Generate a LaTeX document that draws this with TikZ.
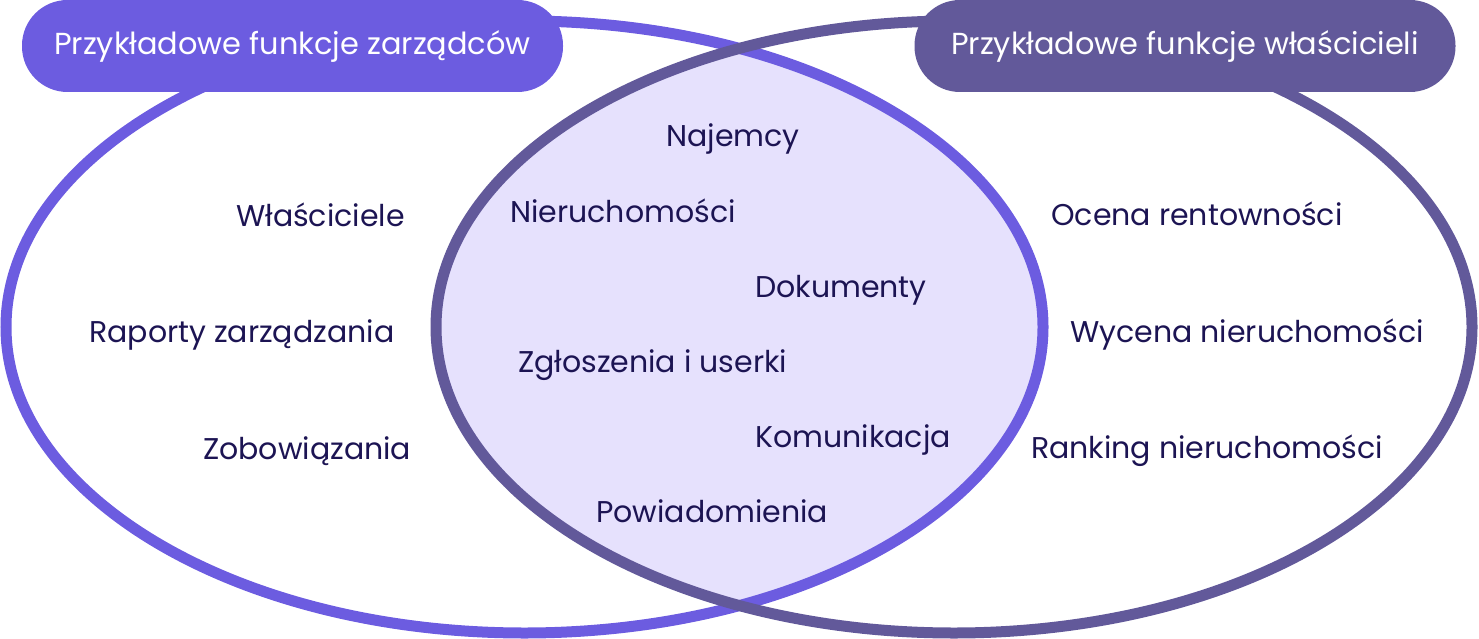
\documentclass[tikz,border=0pt]{standalone}
\usepackage{fontspec}
\setmainfont{Poppins}
\definecolor{mgr}{HTML}{6C5CE0}
\definecolor{own}{HTML}{62599A}
\definecolor{lav}{HTML}{E6E1FD}
\definecolor{ink}{HTML}{1C1453}
\tikzset{
  item/.style={anchor=base west,inner sep=0pt,text=ink,font=\fontsize{30}{36}\selectfont},
  pill/.style={rounded corners=45.5pt,minimum width=541pt,minimum height=92pt,inner sep=0pt,text=white,font=\fontsize{30.4}{36}\selectfont},
  ring/.style={line width=11pt}
}
\begin{document}
\begin{tikzpicture}[x=1pt,y=-1pt]
\useasboundingbox (0,0) rectangle (1479,639);
\begin{scope}
  \clip (524.5,327) ellipse [x radius=518.5, y radius=306];
  \fill[lav] (954,327) ellipse [x radius=518, y radius=306];
\end{scope}
\draw[ring,mgr] (524.5,327) ellipse [x radius=518.5, y radius=306];
\draw[ring,own] (954,327) ellipse [x radius=518, y radius=306];
\node[pill,fill=mgr] (pm) at (292.5,46) {Przykładowe funkcje zarządców};
\node[pill,fill=own] (po) at (1185,46) {Przykładowe funkcje właścicieli};
\node[item] (n1) at (666,147) {Najemcy};
\node[item] (n2) at (510,222) {Nieruchomości};
\node[item] (n3) at (755,297) {Dokumenty};
\node[item] (n4) at (518,372) {Zgłoszenia i userki};
\node[item] (n5) at (755,447) {Komunikacja};
\node[item] (n6) at (596,522) {Powiadomienia};
\node[item] (l1) at (236,226) {Właściciele};
\node[item] (l2) at (89,342) {Raporty zarządzania};
\node[item] (l3) at (203,459) {Zobowiązania};
\node[item] (r1) at (1051,225) {Ocena rentowności};
\node[item] (r2) at (1070,342) {Wycena nieruchomości};
\node[item] (r3) at (1031,458) {Ranking nieruchomości};
\end{tikzpicture}
\end{document}
